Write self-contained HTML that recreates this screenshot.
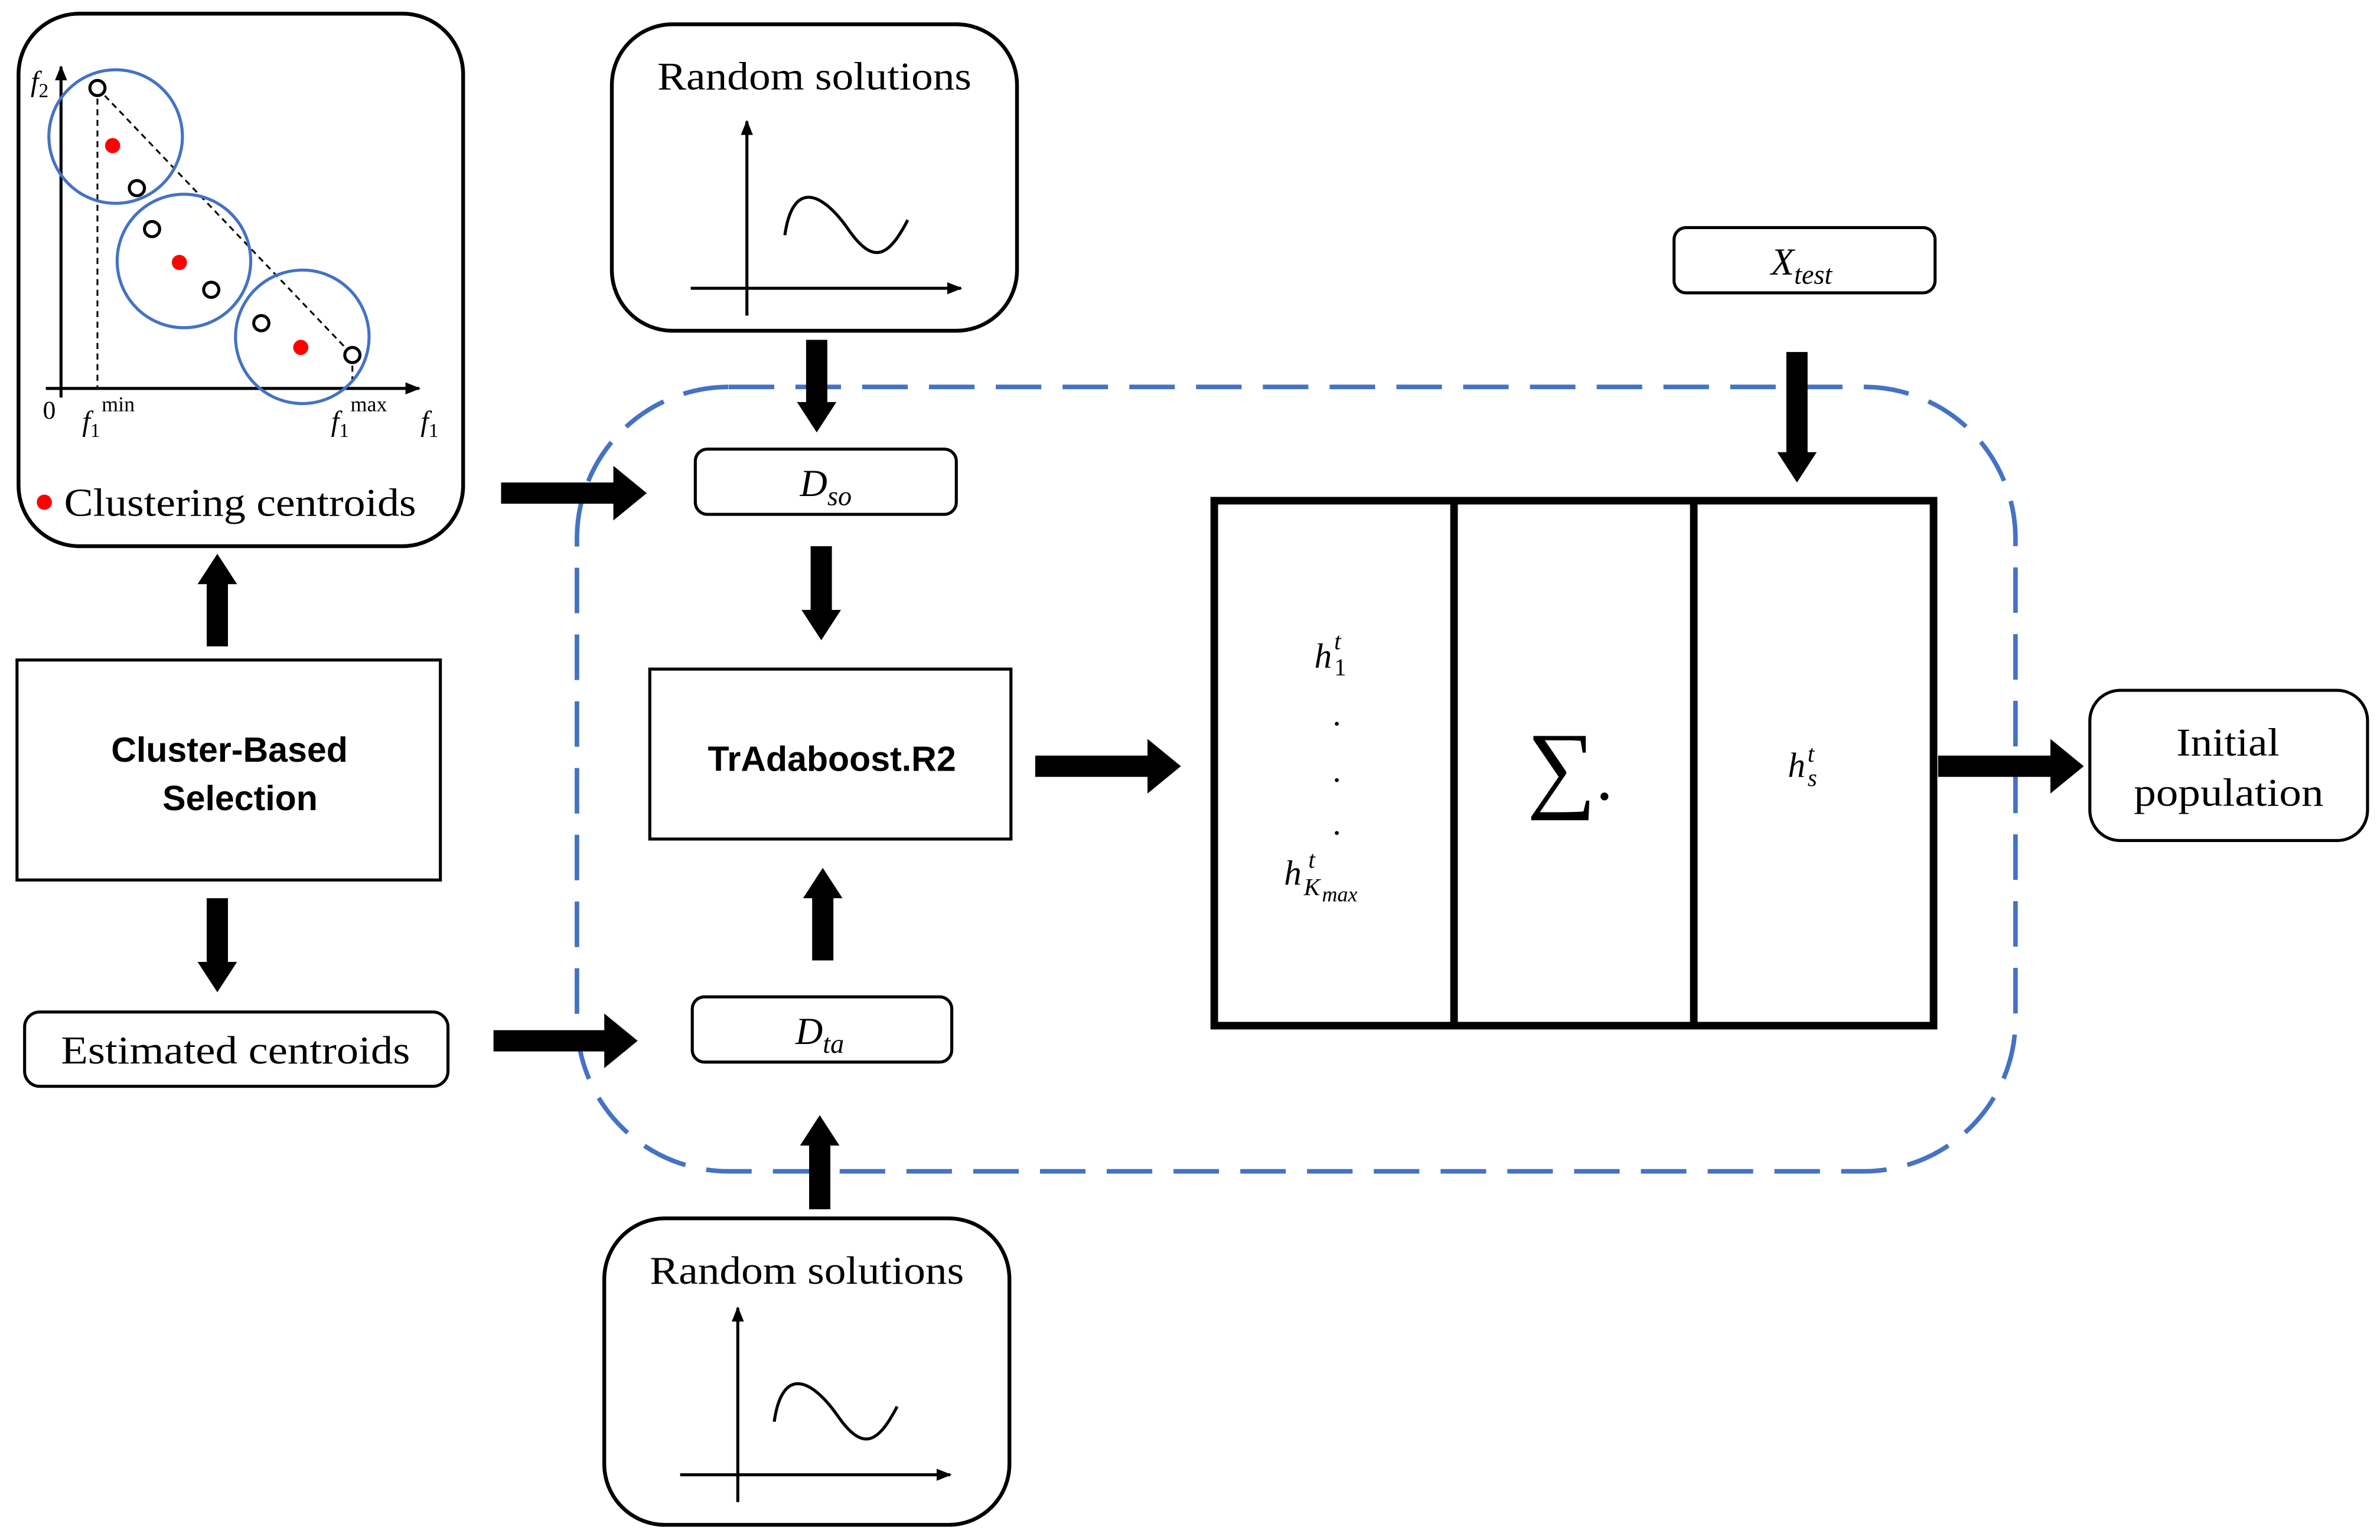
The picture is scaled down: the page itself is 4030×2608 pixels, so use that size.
<!DOCTYPE html>
<html><head><meta charset="utf-8"><style>
html,body{margin:0;padding:0;background:#fff;}
svg{display:block;}
text{font-family:"Liberation Serif",serif;fill:#000;}
.it{font-style:italic;}
.b{font-family:"Liberation Sans",sans-serif;font-weight:bold;}
</style></head><body>
<svg width="4030" height="2608" viewBox="0 0 1568 1015" xmlns="http://www.w3.org/2000/svg">
<defs>
<marker id="ah" markerWidth="10" markerHeight="10" refX="9" refY="5" orient="auto" markerUnits="userSpaceOnUse"><path d="M0,1 L10,5 L0,9 Z" fill="#000"/></marker>
</defs>
<rect width="1568" height="1015" fill="#fff"/>

<!-- Top-left box -->
<rect x="12" y="9" width="293" height="351" rx="40" fill="none" stroke="#000" stroke-width="2.5"/>
<line x1="40" y1="262" x2="40" y2="44" stroke="#000" stroke-width="2" marker-end="url(#ah)"/>
<line x1="30" y1="256" x2="276" y2="256" stroke="#000" stroke-width="2" marker-end="url(#ah)"/>
<line x1="64" y1="58" x2="232" y2="234" stroke="#000" stroke-width="1.2" stroke-dasharray="4,3"/>
<line x1="64" y1="58" x2="64" y2="256" stroke="#000" stroke-width="1.2" stroke-dasharray="4,3"/>
<line x1="232" y1="234" x2="232" y2="256" stroke="#000" stroke-width="1.2" stroke-dasharray="4,3"/>
<circle cx="76" cy="90" r="44" fill="none" stroke="#4472C4" stroke-width="2"/>
<circle cx="121" cy="172" r="44" fill="none" stroke="#4472C4" stroke-width="2"/>
<circle cx="199" cy="222" r="44" fill="none" stroke="#4472C4" stroke-width="2"/>
<g fill="#fff" stroke="#000" stroke-width="2">
<circle cx="64" cy="58" r="5"/><circle cx="90" cy="124" r="5"/><circle cx="100" cy="151" r="5"/>
<circle cx="139" cy="191" r="5"/><circle cx="172" cy="213" r="5"/><circle cx="232" cy="234" r="5"/>
</g>
<g fill="#f00"><circle cx="74" cy="96" r="5"/><circle cx="118" cy="173" r="5"/><circle cx="198" cy="229" r="5"/><circle cx="29" cy="331" r="5"/></g>
<text x="20" y="60" font-size="19" class="it">f<tspan font-size="13" dy="4" font-style="normal">2</tspan></text>
<text x="28" y="276" font-size="17">0</text>
<text x="277" y="284" font-size="19" class="it">f<tspan font-size="13" dy="4" font-style="normal">1</tspan></text>
<text x="54" y="284" font-size="19" class="it">f<tspan font-size="13" dy="4" font-style="normal">1</tspan><tspan font-size="14" dy="-17" dx="1" font-style="normal">min</tspan></text>
<text x="218" y="284" font-size="19" class="it">f<tspan font-size="13" dy="4" font-style="normal">1</tspan><tspan font-size="14" dy="-17" dx="1" font-style="normal">max</tspan></text>
<text x="42" y="340" font-size="26" textLength="232" lengthAdjust="spacingAndGlyphs">Clustering centroids</text>

<!-- Random solutions top -->
<rect x="403" y="16" width="267" height="202" rx="40" fill="none" stroke="#000" stroke-width="2.5"/>
<text x="433" y="59" font-size="26" textLength="207" lengthAdjust="spacingAndGlyphs">Random solutions</text>
<line x1="492" y1="208" x2="492" y2="80" stroke="#000" stroke-width="2" marker-end="url(#ah)"/>
<line x1="455" y1="190" x2="633" y2="190" stroke="#000" stroke-width="2" marker-end="url(#ah)"/>
<path d="M517,155 C522,120 540,125 558,150 C575,175 585,170 598,145" fill="none" stroke="#000" stroke-width="2"/>

<!-- Random solutions bottom -->
<rect x="398" y="803" width="267" height="202" rx="40" fill="none" stroke="#000" stroke-width="2.5"/>
<text x="428" y="846" font-size="26" textLength="207" lengthAdjust="spacingAndGlyphs">Random solutions</text>
<line x1="486" y1="990" x2="486" y2="862" stroke="#000" stroke-width="2" marker-end="url(#ah)"/>
<line x1="448" y1="972" x2="626" y2="972" stroke="#000" stroke-width="2" marker-end="url(#ah)"/>
<path d="M510,937 C515,902 533,907 551,932 C568,957 578,952 591,927" fill="none" stroke="#000" stroke-width="2"/>

<!-- Dashed region -->
<rect x="380" y="255" width="948" height="517" rx="100" fill="none" stroke="#4472C4" stroke-width="3" stroke-dasharray="30,14"/>

<!-- Dso -->
<rect x="458" y="296" width="172" height="43" rx="8" fill="#fff" stroke="#000" stroke-width="2"/>
<text x="544" y="327" font-size="25" text-anchor="middle" class="it">D<tspan font-size="18" dy="6">so</tspan></text>
<!-- TrAdaboost -->
<rect x="428" y="441" width="238" height="112" fill="#fff" stroke="#000" stroke-width="2"/>
<text x="548" y="508" font-size="23" text-anchor="middle" class="b">TrAdaboost.R2</text>
<!-- Dta -->
<rect x="456" y="657" width="171" height="43" rx="8" fill="#fff" stroke="#000" stroke-width="2"/>
<text x="540" y="688" font-size="25" text-anchor="middle" class="it">D<tspan font-size="18" dy="6">ta</tspan></text>
<!-- Xtest -->
<rect x="1103" y="150" width="172" height="43" rx="8" fill="#fff" stroke="#000" stroke-width="2"/>
<text x="1187" y="181" font-size="25" text-anchor="middle" class="it">X<tspan font-size="18" dy="6">test</tspan></text>

<!-- Big box -->
<rect x="800" y="330" width="474" height="346" fill="#fff" stroke="#000" stroke-width="5"/>
<line x1="958" y1="330" x2="958" y2="676" stroke="#000" stroke-width="5"/>
<line x1="1116" y1="330" x2="1116" y2="676" stroke="#000" stroke-width="5"/>
<text x="866" y="440" font-size="23" class="it">h</text>
<text x="879" y="445" font-size="16">1</text>
<text x="879" y="428" font-size="16" class="it">t</text>
<text x="878" y="478" font-size="22">.</text>
<text x="878" y="515" font-size="22">.</text>
<text x="878" y="550" font-size="22">.</text>
<text x="846" y="583" font-size="23" class="it">h</text>
<text x="859" y="590" font-size="16" class="it">K</text>
<text x="871" y="594" font-size="14" class="it">max</text>
<text x="862" y="572" font-size="16" class="it">t</text>
<text x="1006" y="527" font-size="64">∑<tspan font-size="44">.</tspan></text>
<text x="1178" y="512" font-size="23" class="it">h</text>
<text x="1191" y="518" font-size="16" class="it">s</text>
<text x="1191" y="502" font-size="16" class="it">t</text>

<!-- Cluster-based -->
<rect x="11" y="435" width="279" height="145" fill="#fff" stroke="#000" stroke-width="2"/>
<text x="151" y="502" font-size="23" text-anchor="middle" class="b">Cluster-Based</text>
<text x="158" y="534" font-size="23" text-anchor="middle" class="b">Selection</text>
<!-- Estimated centroids -->
<rect x="16" y="667" width="279" height="49" rx="10" fill="#fff" stroke="#000" stroke-width="2"/>
<text x="40" y="701" font-size="26" textLength="230" lengthAdjust="spacingAndGlyphs">Estimated centroids</text>
<!-- Initial population -->
<rect x="1377" y="455" width="183" height="99" rx="20" fill="#fff" stroke="#000" stroke-width="2"/>
<text x="1434" y="498" font-size="26" textLength="68" lengthAdjust="spacingAndGlyphs">Initial</text>
<text x="1406" y="531" font-size="26" textLength="125" lengthAdjust="spacingAndGlyphs">population</text>

<!-- Block arrows -->
<g fill="#000">
<path d="M330,318 H404 V307 L426,325 L404,343 V332 H330 Z"/>
<path d="M325,679 H398 V668 L420,686 L398,704 V693 H325 Z"/>
<path d="M682,498 H756 V487 L778,505 L756,523 V512 H682 Z"/>
<path d="M1277,498 H1351 V487 L1373,505 L1351,523 V512 H1277 Z"/>
<path d="M531,224 V265 H525 L538,285 L551,265 H545 V224 Z"/>
<path d="M534,360 V402 H528 L541,422 L554,402 H548 V360 Z"/>
<path d="M1177,232 V298 H1171 L1184,318 L1197,298 H1191 V232 Z"/>
<path d="M136,592 V634 H130 L143,654 L156,634 H150 V592 Z"/>
<path d="M136,426 V385 H130 L143,365 L156,385 H150 V426 Z"/>
<path d="M535,633 V592 H529 L542,572 L555,592 H549 V633 Z"/>
<path d="M533,797 V755 H527 L540,735 L553,755 H547 V797 Z"/>
</g>
</svg>
</body></html>
